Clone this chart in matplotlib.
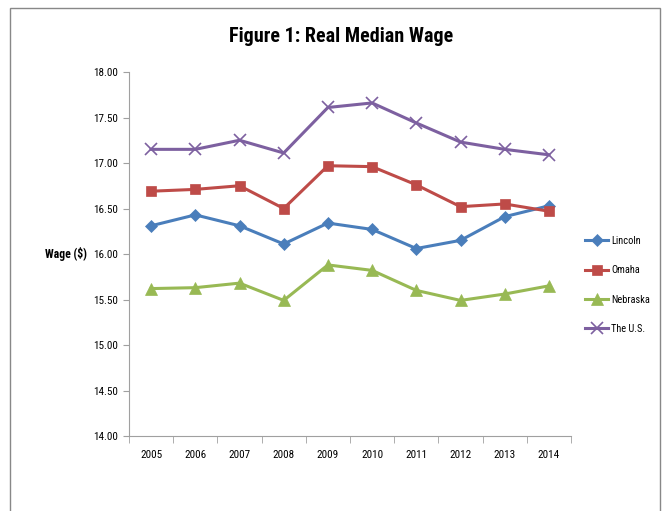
import matplotlib
matplotlib.use("Agg")
import matplotlib.pyplot as plt
from matplotlib.patches import Rectangle
from matplotlib import font_manager

years = ["2005", "2006", "2007", "2008", "2009", "2010", "2011", "2012", "2013", "2014"]
lincoln = [16.31, 16.43, 16.31, 16.11, 16.34, 16.27, 16.06, 16.15, 16.41, 16.53]
omaha = [16.69, 16.71, 16.75, 16.50, 16.97, 16.96, 16.76, 16.52, 16.55, 16.47]
nebraska = [15.62, 15.63, 15.68, 15.49, 15.88, 15.82, 15.60, 15.49, 15.56, 15.65]
us = [17.15, 17.15, 17.25, 17.11, 17.61, 17.66, 17.44, 17.23, 17.15, 17.09]
yticks = [14.0, 14.5, 15.0, 15.5, 16.0, 16.5, 17.0, 17.5, 18.0]

names = {f.name for f in font_manager.fontManager.ttflist}
fam = "DejaVu Sans"
for cand in ["Liberation Sans Narrow", "Roboto Condensed", "Open Sans Condensed", "Liberation Sans"]:
    if cand in names:
        fam = cand
        break
plt.rcParams['font.family'] = [fam, 'DejaVu Sans']

fig = plt.figure(figsize=(6.7, 5.11), dpi=100)
fig.patches.append(Rectangle((10/670, -0.1), 650/670, 1.1 - 8/511, transform=fig.transFigure,
                             fill=False, edgecolor='#888888', linewidth=1.0))
ax = fig.add_axes([129/670, 1 - 436/511, 442/670, 364/511])

x = list(range(len(years)))
series = [
    ("Lincoln", lincoln, '#4A7EBB', 'D', 6),
    ("Omaha", omaha, '#BE4B48', 's', 7.5),
    ("Nebraska", nebraska, '#98B954', '^', 8),
    ("The U.S.", us, '#7D60A0', 'x', 8),
]
for name, vals, c, m, ms in series:
    ax.plot(x, vals, color=c, marker=m, markersize=ms, linewidth=2.2, label=name,
            markeredgewidth=1.2 if m == 'x' else 0.5, markeredgecolor=c)

ax.set_xlim(-0.5, len(years) - 0.5)
ax.set_ylim(14.0, 18.0)
ax.set_yticks(yticks)
ax.set_yticklabels([f"{v:.2f}" for v in yticks], fontsize=8)
ax.set_xticks(x)
ax.set_xticklabels(years, fontsize=8)
ax.set_xticks([i - 0.5 for i in range(len(years) + 1)], minor=True)
ax.tick_params(axis='x', which='major', length=0, pad=10)
ax.tick_params(axis='x', which='minor', length=5, color='#A0A0A0', direction='out')
ax.tick_params(axis='y', length=4, color='#A0A0A0', direction='out', pad=4)
for s in ['top', 'right']:
    ax.spines[s].set_visible(False)
for s in ['left', 'bottom']:
    ax.spines[s].set_color('#A0A0A0')

fig.text(341/670, 1 - 37/511, "Figure 1: Real Median Wage", ha='center', va='center',
         fontsize=14.5, fontweight='bold')
fig.text(66/670, 1 - 254/511, "Wage ($)", ha='center', va='center', fontsize=8.4, fontweight='bold')

leg = ax.legend(loc='center left', bbox_to_anchor=(576/670, 1 - 285/511), bbox_transform=fig.transFigure,
                frameon=False, fontsize=7.5, handlelength=2.2, labelspacing=1.85, handletextpad=0.3)

fig.savefig("out.png", dpi=100, facecolor='white')
